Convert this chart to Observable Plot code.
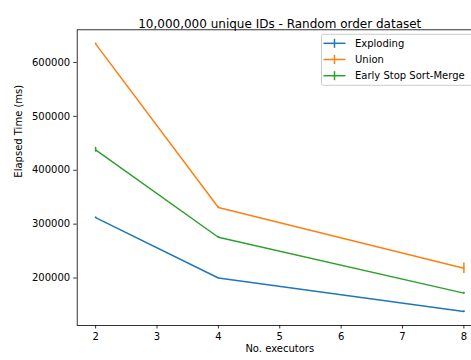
<!DOCTYPE html>
<html><head><meta charset="utf-8">
<script src="https://cdn.jsdelivr.net/npm/d3@7"></script>
<script src="https://cdn.jsdelivr.net/npm/@observablehq/plot@0.6"></script>
<style>
html,body{margin:0;padding:0;background:#fff;overflow:hidden;}
#chart{width:471px;height:360px;overflow:hidden;}
#chart svg{max-width:none !important;width:490px !important;height:360px !important;}
</style></head><body><div id="chart"></div>
<script>
const executors = [2, 4, 8];
const exploding = [312000, 200000, 138000];
const explodingErr = [1500, 1000, 1500];
const union = [634500, 331000, 218000];
const unionErr = [1500, 1500, 9800];
const earlyStop = [438000, 275700, 172000];
const earlyStopErr = [4500, 1500, 1500];
const seriesNames = ["Exploding", "Union", "Early Stop Sort-Merge"];
const seriesColors = ["#1f77b4", "#ff7f0e", "#2ca02c"];
const xTicks = [2, 3, 4, 5, 6, 7, 8];
const yTicks = [200000, 300000, 400000, 500000, 600000];
const titleText = "10,000,000 unique IDs - Random order dataset";
const xLabel = "No. executors";
const yLabel = "Elapsed Time (ms)";

const seriesVals = [exploding, union, earlyStop];
const seriesErrs = [explodingErr, unionErr, earlyStopErr];
const rows = [];
seriesNames.forEach((s, i) => executors.forEach((x, j) => rows.push({series: s, x, y: seriesVals[i][j], err: seriesErrs[i][j]})));

function legendMark(index, scales, values, dims) {
  const g = d3.create("svg:g");
  const right = dims.width - dims.marginRight - 5;
  const left = 321.5, top = dims.marginTop + 5;
  g.append("rect").attr("x", left).attr("y", top).attr("width", right - left).attr("height", 51)
    .attr("rx", 2).attr("fill", "white").attr("fill-opacity", 0.8).attr("stroke", "#cccccc").attr("stroke-width", 1);
  seriesNames.forEach((s, i) => {
    const cy = top + 9 + i * 16.2;
    const c = scales.color(s);
    g.append("line").attr("x1", left + 2).attr("x2", left + 24).attr("y1", cy).attr("y2", cy).attr("stroke", c).attr("stroke-width", 1.5);
    g.append("line").attr("x1", left + 13).attr("x2", left + 13).attr("y1", cy - 4.5).attr("y2", cy + 4.5).attr("stroke", c).attr("stroke-width", 1.5);
    g.append("text").attr("x", left + 33.5).attr("y", cy + 3.6).attr("font-size", 10).attr("text-anchor", "start").attr("fill", "black").text(s);
  });
  return g.node();
}

const chart = Plot.plot({
  width: 490, height: 360,
  marginLeft: 76.7, marginRight: 8.2, marginTop: 29.3, marginBottom: 35,
  style: {fontFamily: "DejaVu Sans", fontSize: "10px", color: "black", background: "white"},
  x: {domain: [1.7, 8.3]},
  y: {domain: [111900, 660700]},
  color: {domain: seriesNames, range: seriesColors},
  marks: [
    Plot.axisX({ticks: xTicks, tickSize: 3.5, tickPadding: 3.5, label: null, tickFormat: d => String(d), strokeWidth: 0.8}),
    Plot.axisY({ticks: yTicks, tickSize: 3.5, tickPadding: 3.5, label: null, tickFormat: d => String(d), strokeWidth: 0.8}),
    Plot.line(rows, {x: "x", y: "y", z: "series", stroke: "series", strokeWidth: 1.5}),
    Plot.ruleX(rows, {x: "x", y1: d => d.y - d.err, y2: d => d.y + d.err, stroke: "series", strokeWidth: 1.5}),
    Plot.frame({stroke: "black", strokeWidth: 0.8}),
    Plot.text([titleText], {frameAnchor: "top", text: d => d, dy: -10.4, fontSize: 12}),
    Plot.text([xLabel], {frameAnchor: "bottom", text: d => d, dy: 26.5, fontSize: 10}),
    Plot.text([yLabel], {frameAnchor: "left", text: d => d, rotate: -90, dx: -58.7, fontSize: 10}),
    legendMark
  ]
});
document.getElementById("chart").appendChild(chart);
</script></body></html>
